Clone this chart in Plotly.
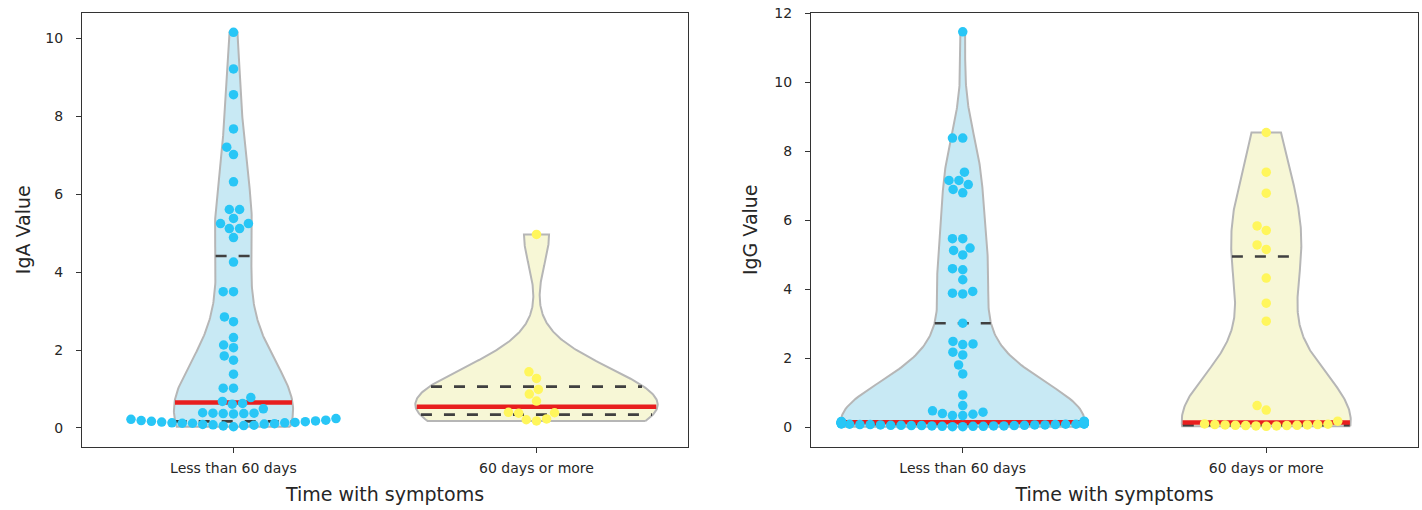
import numpy as np
import plotly.graph_objects as go

# ---------------- data ----------------
categories = ["Less than 60 days", "60 days or more"]

iga_lt60 = [10.16, 9.22, 8.56, 7.68, 7.21, 7.02, 6.32, 5.61, 5.61, 5.38, 5.25, 5.25, 5.12, 5.12, 4.89,
            4.26, 3.50, 3.50, 2.85, 2.73, 2.32, 2.13, 2.06, 1.85, 1.74, 1.38, 1.02, 1.02, 0.78, 0.68,
            0.63, 0.61, 0.49, 0.39, 0.38, 0.38, 0.37, 0.37, 0.36,
            0.24, 0.22, 0.20, 0.19, 0.18, 0.17, 0.16, 0.15, 0.14, 0.13, 0.13, 0.12, 0.12, 0.11,
            0.10, 0.09, 0.08, 0.07, 0.06, 0.05, 0.03]
iga_ge60 = [4.97, 1.44, 1.27, 0.99, 0.87, 0.69, 0.40, 0.39, 0.38, 0.23, 0.21, 0.18]

igg_lt60 = [11.47, 8.39, 8.39, 7.40, 7.16, 7.16, 7.04, 6.90, 6.80, 5.47, 5.47, 5.20, 5.13, 5.00, 4.60,
            4.57, 4.28, 3.94, 3.89, 3.87, 3.02, 2.49, 2.42, 2.40, 2.18, 2.10, 1.81, 1.55, 0.94, 0.63,
            0.48, 0.44, 0.40, 0.38, 0.34, 0.34,
            0.02, 0.02, 0.03, 0.03, 0.03, 0.04, 0.04, 0.04, 0.05, 0.05, 0.05, 0.06, 0.06, 0.06,
            0.07, 0.07, 0.07, 0.08, 0.08, 0.08, 0.09, 0.09, 0.09, 0.10, 0.10, 0.10, 0.11, 0.11,
            0.11, 0.12, 0.12, 0.12, 0.13, 0.13, 0.13, 0.14, 0.14, 0.14, 0.15, 0.15, 0.15, 0.16,
            0.16, 0.17, 0.18]
igg_ge60 = [8.55, 7.40, 6.79, 5.84, 5.71, 5.29, 5.16, 4.33, 3.60, 3.08, 0.63, 0.50, 0.18,
            0.03, 0.04, 0.04, 0.05, 0.05, 0.06, 0.06, 0.07, 0.07, 0.08, 0.08, 0.09, 0.10]

y_titles = ["IgA Value", "IgG Value"]
x_title = "Time with symptoms"
y_ticks_left = [0, 2, 4, 6, 8, 10]
y_ticks_right = [0, 2, 4, 6, 8, 10, 12]

# ---------------- style / layout ----------------
W, H = 1422, 510
# axes boxes in px: x0, x1, ytop, ybottom
boxes = [(82, 688, 12.5, 447), (811, 1418, 12.5, 447)]
yranges = [[-0.49, 10.67], [-0.57, 12.03]]
violin_fill = ["rgb(200,233,244)", "rgb(247,247,214)"]
point_col = ["rgb(40,198,246)", "rgb(255,246,92)"]
edge_col = "rgb(182,182,182)"
quart_col = "rgb(64,64,64)"
med_col = "rgb(232,30,30)"
VW = 0.8          # violin width (category units)
D = 9.8           # swarm point spacing in px
MS = 9.5          # marker size
TICK_FS = 14
TITLE_FS = 19


def kde(data, grid):
    d = np.asarray(data, float)
    n = d.size
    bw = d.std(ddof=1) * n ** (-1 / 5)
    z = (grid[:, None] - d[None, :]) / bw
    return np.exp(-0.5 * z ** 2).sum(axis=1) / (n * bw * np.sqrt(2 * np.pi))


def beeswarm(values, ppx, ppy, d=D, half=0.4):
    ys = np.asarray(values, float) * ppy
    order = np.argsort(ys, kind="stable")
    xs = np.zeros(len(ys))
    placed = []
    for idx in order:
        y = ys[idx]
        neigh = [(px, py) for (px, py) in reversed(placed) if abs(y - py) <= d]
        cands = [0.0]
        left_first = True
        for px, py in neigh:
            dy = y - py
            dx = np.sqrt(max(d * d - dy * dy, 0)) * 1.05
            pair = [px - dx, px + dx] if left_first else [px + dx, px - dx]
            cands.extend(pair)
            left_first = not left_first
        cands = sorted(cands, key=lambda c: abs(c))
        chosen = cands[-1]
        for c in cands:
            if all((c - px) ** 2 + (y - py) ** 2 >= d * d - 1e-9 for px, py in neigh):
                chosen = c
                break
        placed.append((chosen, y))
        xs[idx] = chosen
    xs = xs / ppx
    return np.clip(xs, -half, half)


fig = go.Figure()
panels = [(iga_lt60, iga_ge60), (igg_lt60, igg_ge60)]
for p, groups in enumerate(panels):
    x0, x1, yt, yb = boxes[p]
    ppx = (x1 - x0) / 2.0
    ppy = (yb - yt) / (yranges[p][1] - yranges[p][0])
    xa = "x" if p == 0 else "x2"
    ya = "y" if p == 0 else "y2"
    sups, dens = [], []
    for g in groups:
        s = np.linspace(min(g), max(g), 200)
        sups.append(s)
        dens.append(kde(g, s))
    gmax = max(dd.max() for dd in dens)
    for i, g in enumerate(groups):
        s, dd = sups[i], dens[i] / gmax * (VW / 2)
        xs = np.concatenate([i + dd, (i - dd)[::-1], [i + dd[0]]])
        yy = np.concatenate([s, s[::-1], [s[0]]])
        fig.add_trace(go.Scatter(x=xs, y=yy, xaxis=xa, yaxis=ya, mode="lines", fill="toself",
                                 fillcolor=violin_fill[i], line=dict(color=edge_col, width=2),
                                 hoverinfo="skip"))
        q1, med, q3 = np.percentile(g, [25, 50, 75])
        for q, col, dash, wd in [(q1, quart_col, "11px,12px", 2.6), (q3, quart_col, "11px,12px", 2.6),
                                 (med, med_col, "solid", 4.5)]:
            k = np.argmin(np.abs(s - q))
            w = dd[k] * 0.99
            fig.add_trace(go.Scatter(x=[i - w, i + w], y=[q, q], xaxis=xa, yaxis=ya, mode="lines",
                                     line=dict(color=col, width=wd, dash=dash), hoverinfo="skip"))
    for i, g in enumerate(groups):
        off = beeswarm(g, ppx, ppy)
        fig.add_trace(go.Scatter(x=i + off, y=g, xaxis=xa, yaxis=ya, mode="markers",
                                 marker=dict(size=MS, color=point_col[i], line=dict(width=0)),
                                 hoverinfo="y"))

ax_common = dict(showline=True, linecolor="#333333", linewidth=1.2, mirror=True, ticks="outside",
                 ticklen=5, tickwidth=1.2, tickcolor="#333333", showgrid=False, zeroline=False,
                 automargin=False, ticklabeloverflow="allow",
                 tickfont=dict(size=TICK_FS, color="#262626"))
xcommon = dict(range=[-0.5, 1.5], tickvals=[0, 1], ticktext=categories, ticklabelstandoff=3,
               title=dict(text=x_title, standoff=12, font=dict(size=TITLE_FS)))
ydom = [1 - boxes[0][3] / H, 1 - boxes[0][2] / H]
fig.update_layout(
    width=W, height=H, margin=dict(l=0, r=0, t=0, b=0, autoexpand=False), showlegend=False,
    paper_bgcolor="white", plot_bgcolor="white",
    font=dict(family="DejaVu Sans", size=TICK_FS, color="#262626"),
    xaxis=dict(domain=[boxes[0][0] / W, boxes[0][1] / W], anchor="y", **xcommon, **ax_common),
    yaxis=dict(domain=ydom, range=yranges[0], tickvals=y_ticks_left, anchor="x", ticklabelstandoff=10,
               title=dict(text=y_titles[0], standoff=9, font=dict(size=TITLE_FS)), **ax_common),
    xaxis2=dict(domain=[boxes[1][0] / W, boxes[1][1] / W], anchor="y2", **xcommon, **ax_common),
    yaxis2=dict(domain=ydom, range=yranges[1], tickvals=y_ticks_right, anchor="x2", ticklabelstandoff=10,
                title=dict(text=y_titles[1], standoff=11, font=dict(size=TITLE_FS)), **ax_common),
)
fig.write_html("out.html", config={"displayModeBar": False},
               post_script="document.body.style.margin='0';document.body.style.overflow='hidden';")
